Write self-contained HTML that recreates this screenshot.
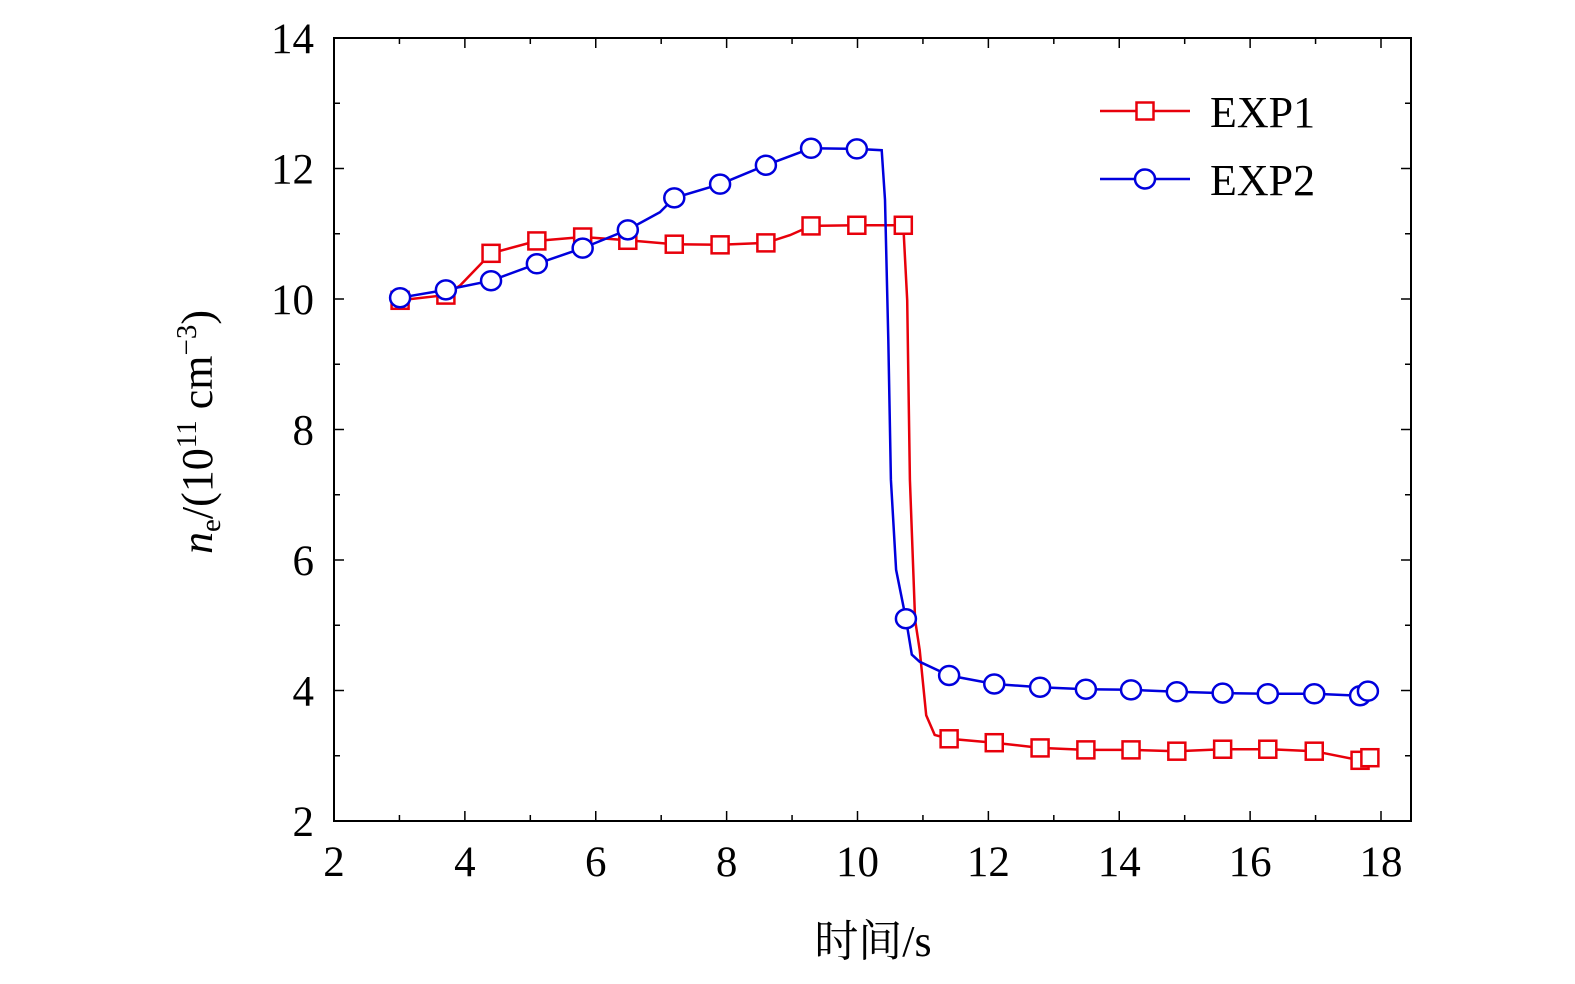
<!DOCTYPE html>
<html><head><meta charset="utf-8"><style>
html,body{margin:0;padding:0;background:#fff;}
svg{display:block;font-family:"Liberation Serif","Noto Serif CJK SC",serif;}
</style></head><body>
<svg id="chart" width="1575" height="984" viewBox="0 0 1575 984" xmlns="http://www.w3.org/2000/svg">
<g id="plot"></g>
</svg>
<script>
const xTicks=[2,4,6,8,10,12,14,16,18];
const yTicks=[2,4,6,8,10,12,14];
const exp1X=[3.01,3.71,3.93,4.40,5.10,5.80,6.49,7.20,7.90,8.60,8.97,9.29,9.99,10.70,10.76,10.80,10.88,10.95,11.05,11.18,11.40,12.09,12.79,13.49,14.18,14.88,15.58,16.27,16.98,17.68,17.83];
const exp1Y=[9.98,10.06,10.21,10.70,10.89,10.95,10.90,10.84,10.83,10.86,10.98,11.12,11.13,11.13,9.98,7.23,5.08,4.62,3.62,3.32,3.26,3.20,3.12,3.09,3.09,3.07,3.10,3.10,3.07,2.93,2.97];
const exp1M=[1,1,0,1,1,1,1,1,1,1,0,1,1,1,0,0,0,0,0,0,1,1,1,1,1,1,1,1,1,1,1];
const exp2X=[3.01,3.71,4.40,5.10,5.80,6.49,6.98,7.20,7.90,8.60,9.29,9.99,10.37,10.42,10.47,10.51,10.59,10.74,10.83,10.95,11.40,12.09,12.79,13.49,14.18,14.88,15.58,16.27,16.98,17.68,17.80];
const exp2Y=[10.02,10.14,10.28,10.54,10.78,11.06,11.33,11.55,11.76,12.05,12.31,12.30,12.28,11.52,9.38,7.23,5.85,5.10,4.55,4.44,4.23,4.10,4.05,4.02,4.01,3.98,3.96,3.95,3.95,3.92,3.99];
const exp2M=[1,1,1,1,1,1,0,1,1,1,1,1,0,0,0,0,0,1,0,0,1,1,1,1,1,1,1,1,1,1,1];

const L=334,R=1411,T=38,B=821;
const x0=334,x1=1381;
const sx=v=>x0+(v-2)*(x1-x0)/16;
const sy=v=>B-(v-2)*(B-T)/12;
const NS="http://www.w3.org/2000/svg";
const g=document.getElementById('plot');
function mk(tag,attrs){const e=document.createElementNS(NS,tag);for(const k in attrs)e.setAttribute(k,attrs[k]);g.appendChild(e);return e;}

const frame=mk('rect',{x:L,y:T,width:R-L,height:B-T,fill:'none',stroke:'#000','stroke-width':2});



for(let v=2;v<=18;v+=1){const X=sx(v);const len=(v%2===0)?10:6;
 const t=mk('line',{x1:X,y1:B,x2:X,y2:B-len,stroke:'#000','stroke-width':1.5});
 
 
 const t2=mk('line',{x1:X,y1:T,x2:X,y2:T+len,stroke:'#000','stroke-width':1.5});
 
 }
for(let v=2;v<=14;v+=1){const Y=sy(v);const len=(v%2===0)?10:6;
 const t=mk('line',{x1:L,y1:Y,x2:L+len,y2:Y,stroke:'#000','stroke-width':1.5});
 
 
 const t2=mk('line',{x1:R,y1:Y,x2:R-len,y2:Y,stroke:'#000','stroke-width':1.5});
 
 }
xTicks.forEach(v=>{const t=mk('text',{x:sx(v),y:876,'font-size':43,'text-anchor':'middle'});t.textContent=v;
 
 });
yTicks.forEach(v=>{const t=mk('text',{x:314,y:sy(v)+15,'font-size':43,'text-anchor':'end'});t.textContent=v;
 
 });

function series(xs,ys,ms,color,shape,name){
 const d=xs.map((v,i)=>(i?'L':'M')+sx(v).toFixed(1)+' '+sy(ys[i]).toFixed(1)).join(' ');
 const p=mk('path',{d:d,fill:'none',stroke:color,'stroke-width':2.5});
 
 
 xs.forEach((v,i)=>{if(!ms[i])return;const X=sx(v),Y=sy(ys[i]);let m;
  if(shape==='sq')m=mk('rect',{x:X-8.5,y:Y-8.5,width:17,height:17,fill:'#fff',stroke:color,'stroke-width':2.5});
  else m=mk('ellipse',{cx:X,cy:Y,rx:10,ry:9.5,fill:'#fff',stroke:color,'stroke-width':2.5});
  
  });
}
series(exp1X,exp1Y,exp1M,'#e8000b','sq','exp1');
series(exp2X,exp2Y,exp2M,'#0000dd','ci','exp2');

const l1=mk('line',{x1:1100,y1:111,x2:1190,y2:111,stroke:'#e8000b','stroke-width':2.5});


const m1=mk('rect',{x:1136.5,y:102.5,width:17,height:17,fill:'#fff',stroke:'#e8000b','stroke-width':2.5});


const t1=mk('text',{x:1210,y:127,'font-size':44});t1.textContent='EXP1';


const l2=mk('line',{x1:1100,y1:179,x2:1190,y2:179,stroke:'#0000dd','stroke-width':2.5});


const m2=mk('ellipse',{cx:1145,cy:179,rx:10,ry:9.5,fill:'#fff',stroke:'#0000dd','stroke-width':2.5});


const t2=mk('text',{x:1210,y:195,'font-size':44});t2.textContent='EXP2';



const xt=mk('text',{x:873,y:956,'font-size':44,'text-anchor':'middle'});xt.textContent='时间/s';


const yt=mk('text',{x:0,y:0,'font-size':44,'text-anchor':'middle',transform:'translate(212,432) rotate(-90)'});
yt.innerHTML='<tspan font-style="italic">n</tspan><tspan font-size="29" dy="8">e</tspan><tspan dy="-8">/(10</tspan><tspan font-size="29" dy="-16">11</tspan><tspan dy="16"> cm</tspan><tspan font-size="29" dy="-16">−3</tspan><tspan dy="16">)</tspan>';


</script>
</body></html>
